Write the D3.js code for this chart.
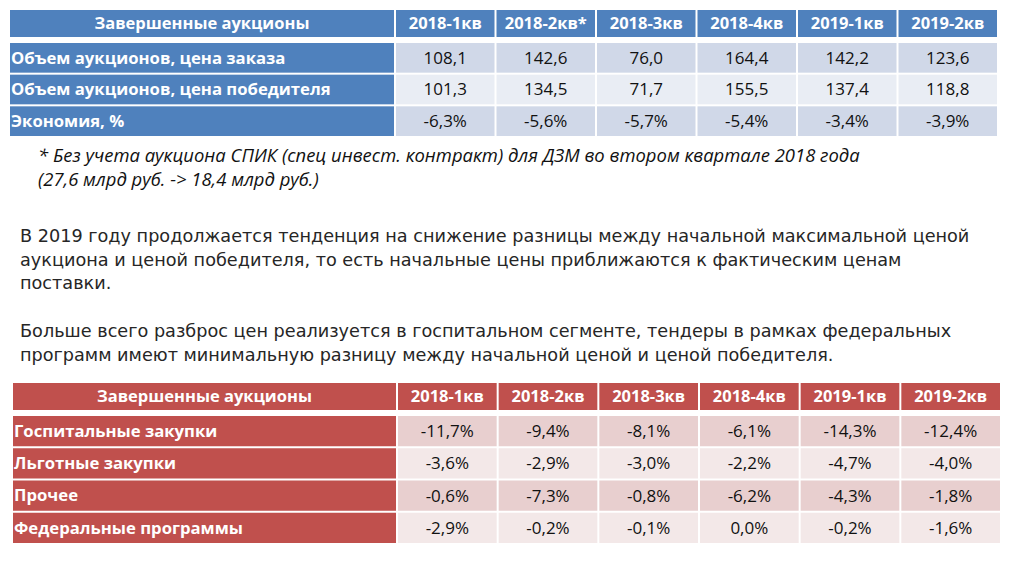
<!DOCTYPE html>
<html>
<head>
<meta charset="utf-8">
<script src="https://cdn.jsdelivr.net/npm/d3@7"></script>
<style>
  body { margin: 0; background: #fff; }
  svg { display: block; }
</style>
</head>
<body>
<div id="draw"></div>
<script>
// --- data ---
var quarters = ['2018-1кв', '2018-2кв*', '2018-3кв', '2018-4кв', '2019-1кв', '2019-2кв'];
var quartersB = ['2018-1кв', '2018-2кв', '2018-3кв', '2018-4кв', '2019-1кв', '2019-2кв'];
var headerLabel = 'Завершенные аукционы';

var topRows = ['Объем аукционов, цена заказа', 'Объем аукционов, цена победителя', 'Экономия, %'];
var orderPrice = [108.1, 142.6, 76.0, 164.4, 142.2, 123.6];
var winnerPrice = [101.3, 134.5, 71.7, 155.5, 137.4, 118.8];
var economy = [-6.3, -5.6, -5.7, -5.4, -3.4, -3.9];

var bottomRows = ['Госпитальные закупки', 'Льготные закупки', 'Прочее', 'Федеральные программы'];
var hospital = [-11.7, -9.4, -8.1, -6.1, -14.3, -12.4];
var preferential = [-3.6, -2.9, -3.0, -2.2, -4.7, -4.0];
var other = [-0.6, -7.3, -0.8, -6.2, -4.3, -1.8];
var federal = [-2.9, -0.2, -0.1, 0.0, -0.2, -1.6];

var footnote = [
	'* Без учета аукциона СПИК (спец инвест. контракт) для ДЗМ во втором квартале 2018 года',
	'(27,6 млрд руб. -> 18,4 млрд руб.)'
];
var para1 = [
	'В 2019 году продолжается тенденция на снижение разницы между начальной максимальной ценой',
	'аукциона и ценой победителя, то есть начальные цены приближаются к фактическим ценам',
	'поставки.'
];
var para2 = [
	'Больше всего разброс цен реализуется в госпитальном сегменте, тендеры в рамках федеральных',
	'программ имеют минимальную разницу между начальной ценой и ценой победителя.'
];

// --- setup ---
var width = 1022,
	height = 567;

var svg = d3
	.select('#draw')
	.append('svg')
	.attr('width', width)
	.attr('height', height);

var ru = d3.formatLocale({ decimal: ',', thousands: ' ', grouping: [3], currency: ['', ''], minus: '-' });
var fmtNum = ru.format('.1f');
var fmtPct = function (v) {
	return ru.format('.1f')(v) + '%';
};

var tableFont = "'Open Sans', 'Liberation Sans', sans-serif";

function drawTable(opt) {
	var g = svg.append('g');

	var x = d3.scaleBand().domain(opt.cols).range([opt.labelRight, opt.right]);
	var y = d3
		.scaleBand()
		.domain(opt.rows.map(function (r) { return r.label; }))
		.range([opt.bodyTop, opt.bottom]);

	// header
	g.append('rect')
		.attr('x', opt.left + 1)
		.attr('y', opt.headTop)
		.attr('width', opt.labelRight - opt.left - 2)
		.attr('height', opt.headBottom - opt.headTop)
		.style('fill', opt.dark);
	g.append('text')
		.attr('x', (opt.left + opt.labelRight) / 2)
		.attr('y', (opt.headTop + opt.headBottom) / 2)
		.attr('dy', '0.35em')
		.style('text-anchor', 'middle')
		.style('font', 'bold 16.5px ' + tableFont)
		.style('fill', '#fff')
		.text(headerLabel);

	g.selectAll('.hc')
		.data(opt.cols)
		.enter()
		.append('rect')
		.attr('x', function (d) { return x(d) + 1; })
		.attr('y', opt.headTop)
		.attr('width', x.bandwidth() - 2)
		.attr('height', opt.headBottom - opt.headTop)
		.style('fill', opt.dark);
	g.selectAll('.ht')
		.data(opt.cols)
		.enter()
		.append('text')
		.attr('x', function (d) { return x(d) + x.bandwidth() / 2; })
		.attr('y', (opt.headTop + opt.headBottom) / 2)
		.attr('dy', '0.35em')
		.style('text-anchor', 'middle')
		.style('font', 'bold 16.5px ' + tableFont)
		.style('fill', '#fff')
		.text(function (d) { return d; });

	// body rows
	var row = g
		.selectAll('.row')
		.data(opt.rows)
		.enter()
		.append('g')
		.attr('transform', function (d) { return 'translate(0,' + y(d.label) + ')'; });

	row.append('rect')
		.attr('x', opt.left + 1)
		.attr('y', 1)
		.attr('width', opt.labelRight - opt.left - 2)
		.attr('height', y.bandwidth() - 2)
		.style('fill', opt.dark);
	row.append('text')
		.attr('x', opt.left + 2)
		.attr('y', y.bandwidth() / 2)
		.attr('dy', '0.35em')
		.style('font', 'bold 16.7px ' + tableFont)
		.style('fill', '#fff')
		.text(function (d) { return d.label; });

	row.each(function (r, ri) {
		var cells = d3
			.select(this)
			.selectAll('.cell')
			.data(r.values)
			.enter();
		cells
			.append('rect')
			.attr('x', function (d, i) { return x(opt.cols[i]) + 1; })
			.attr('y', 1)
			.attr('width', x.bandwidth() - 2)
			.attr('height', y.bandwidth() - 2)
			.style('fill', ri % 2 === 0 ? opt.band1 : opt.band2);
		cells
			.append('text')
			.attr('x', function (d, i) { return x(opt.cols[i]) + x.bandwidth() / 2; })
			.attr('y', y.bandwidth() / 2)
			.attr('dy', '0.35em')
			.style('text-anchor', 'middle')
			.style('font', '17px ' + tableFont)
			.style('fill', '#111')
			.text(function (d) { return r.fmt(d); });
	});
}

drawTable({
	cols: quarters,
	rows: [
		{ label: topRows[0], values: orderPrice, fmt: fmtNum },
		{ label: topRows[1], values: winnerPrice, fmt: fmtNum },
		{ label: topRows[2], values: economy, fmt: fmtPct }
	],
	left: 9,
	labelRight: 395,
	right: 998,
	headTop: 10,
	headBottom: 37,
	bodyTop: 42,
	bottom: 137,
	dark: '#4f81bd',
	band1: '#d0d8e8',
	band2: '#e9edf4'
});

drawTable({
	cols: quartersB,
	rows: [
		{ label: bottomRows[0], values: hospital, fmt: fmtPct },
		{ label: bottomRows[1], values: preferential, fmt: fmtPct },
		{ label: bottomRows[2], values: other, fmt: fmtPct },
		{ label: bottomRows[3], values: federal, fmt: fmtPct }
	],
	left: 12,
	labelRight: 397,
	right: 1001,
	headTop: 383,
	headBottom: 410,
	bodyTop: 415,
	bottom: 544,
	dark: '#c0504d',
	band1: '#e8cfcf',
	band2: '#f3e8e8'
});

// --- text blocks ---
function textBlock(lines, x0, y0, lineH, style, fitWidth) {
	var t = svg
		.append('g')
		.selectAll('text')
		.data(lines)
		.enter()
		.append('text')
		.attr('x', x0)
		.attr('y', function (d, i) { return y0 + i * lineH; })
		.style('font-family', style.family)
		.style('font-style', style.italic ? 'italic' : 'normal')
		.style('font-size', style.size + 'px')
		.style('fill', style.color)
		.text(function (d) { return d; });
	// scale the font so the first line spans the same width as in the slide
	var w = t.node().getComputedTextLength();
	if (w > 0) t.style('font-size', (style.size * fitWidth) / w + 'px');
}

textBlock(footnote, 38, 162, 23.5, { family: "'Open Sans', sans-serif", italic: true, size: 16, color: '#111' }, 822);
textBlock(para1, 20, 242, 23.5, { family: "'DejaVu Sans', sans-serif", size: 17, color: '#262626' }, 950);
textBlock(para2, 20, 337, 23.5, { family: "'DejaVu Sans', sans-serif", size: 17, color: '#262626' }, 932);
</script>
</body>
</html>
